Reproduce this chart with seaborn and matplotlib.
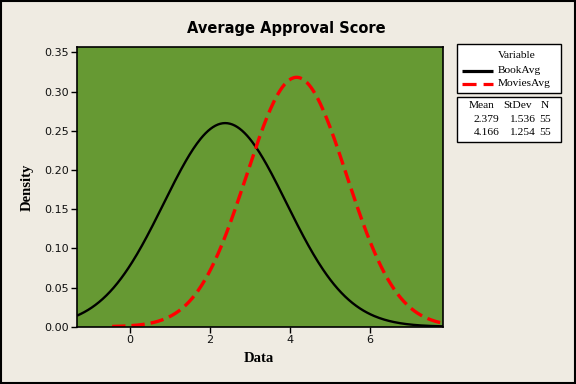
import numpy as np
import pandas as pd
import matplotlib
matplotlib.use("Agg")
import matplotlib.pyplot as plt
from matplotlib.lines import Line2D
from matplotlib.patches import Rectangle
import seaborn as sns

# ---- data ----
variables = ["BookAvg", "MoviesAvg"]
means = [2.379, 4.166]
stdevs = [1.536, 1.254]
ns = [55, 55]
curve_start = [-1.33, -0.45]
curve_end = [7.83, 7.83]
x_ticks = [0, 2, 4, 6]
y_ticks = [0.00, 0.05, 0.10, 0.15, 0.20, 0.25, 0.30, 0.35]
title = "Average Approval Score"

BG = "#EFEBE2"
GREEN = "#669933"
colors = {"BookAvg": "black", "MoviesAvg": "#FF0000"}

# fitted normal curves defined by the displayed Mean / StDev
rows = []
for v, m, s, a, b in zip(variables, means, stdevs, curve_start, curve_end):
    xs = np.linspace(a, b, 300)
    ys = np.exp(-0.5 * ((xs - m) / s) ** 2) / (s * np.sqrt(2 * np.pi))
    rows.append(pd.DataFrame({"Data": xs, "Density": ys, "Variable": v}))
df = pd.concat(rows, ignore_index=True)

sns.set_theme(style="white")
plt.rcParams["font.family"] = ["DejaVu Sans"]
plt.rcParams["text.color"] = "black"

W, H = 576, 384
fig = plt.figure(figsize=(W / 100, H / 100), dpi=100, facecolor=BG)

def fx(x):
    return x / W

def fy(y):
    return 1 - y / H

ax = fig.add_axes([fx(77), fy(326.7), fx(443) - fx(77), fy(47) - fy(326.7)])
ax.set_facecolor(GREEN)

sns.lineplot(data=df, x="Data", y="Density", hue="Variable", style="Variable",
             palette=colors, dashes={"BookAvg": "", "MoviesAvg": (4, 1.8)},
             legend=False, ax=ax, sort=False)
for line in ax.lines:
    line.set_solid_capstyle("butt")
ax.lines[0].set_linewidth(1.7)
ax.lines[1].set_linewidth(2.4)

ax.set_xlim(-1.33, 7.83)
ax.set_ylim(0, 0.3568)
ax.set_xticks(x_ticks)
ax.set_xticklabels([str(t) for t in x_ticks])
ax.set_yticks(y_ticks)
ax.set_yticklabels([f"{t:.2f}" for t in y_ticks])
ax.tick_params(axis="both", which="both", direction="out", length=4, width=1,
               color="black", labelsize=8, labelcolor="#111111", pad=2,
               left=True, bottom=True)
for sp in ax.spines.values():
    sp.set_color("black")
    sp.set_linewidth(1.2)
ax.set_xlabel("")
ax.set_ylabel("")

# titles / labels
fig.text(fx(286), fy(28), title, ha="center", va="center", color="black",
         fontsize=10.5, fontweight="bold", family=["DejaVu Sans"])
fig.text(fx(259), fy(359), "Data", ha="center", va="center", color="black",
         fontsize=10.5, fontweight="bold", family=["Liberation Serif"])
fig.text(fx(27), fy(187), "Density", ha="center", va="center", rotation=90,
         color="black", fontsize=10.5, fontweight="bold", family=["Liberation Serif"])

# legend boxes
def box(x0, y0, x1, y1):
    fig.patches.append(Rectangle((fx(x0), fy(y1)), fx(x1) - fx(x0), fy(y0) - fy(y1),
                                 transform=fig.transFigure, facecolor="white",
                                 edgecolor="black", linewidth=1.0))

box(457, 44, 561, 93)
box(457, 97, 561, 142)

lfs = 8.2
serif = ["Liberation Serif"]
def t(x, y, s):
    fig.text(fx(x), fy(y), s, ha="left", va="center", fontsize=lfs,
             family=serif, color="black")

t(498, 55.5, "Variable")
row_y = [70.5, 83.5]
styles = [dict(color="black", lw=2.3, ls="-"),
          dict(color="#FF0000", lw=2.3, ls=(0, (4.4, 2.2)))]
for v, yy, st in zip(variables, row_y, styles):
    fig.lines.append(Line2D([fx(462), fx(493)], [fy(yy), fy(yy)],
                            transform=fig.transFigure, solid_capstyle="butt",
                            dash_capstyle="butt", **st))
    t(498, yy, v)

t(469, 106, "Mean")
t(503, 106, "StDev")
t(541, 106, "N")
for m, s, n, yy in zip(means, stdevs, ns, [120, 132.5]):
    t(474, yy, f"{m:.3f}")
    t(509, yy, f"{s:.3f}")
    t(539, yy, f"{n}")

# figure border
fig.patches.append(Rectangle((0.001, 0.002), 0.997, 0.996, transform=fig.transFigure,
                             facecolor="none", edgecolor="black", linewidth=1.5))

fig.savefig("out.png", dpi=100, facecolor=BG)
